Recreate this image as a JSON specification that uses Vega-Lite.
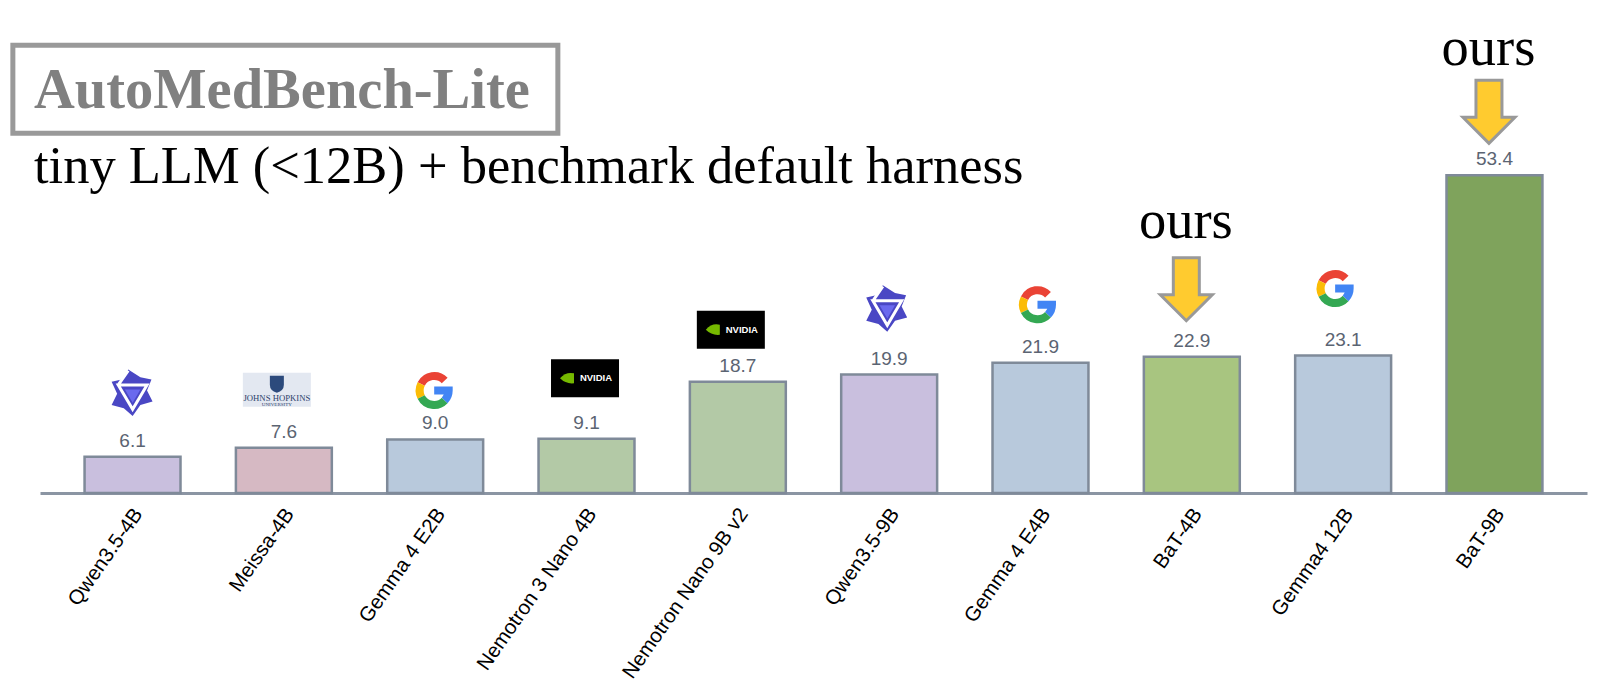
{
"$schema":"https://vega.github.io/schema/vega-lite/v6.json",
"width":1547,"height":493,
"autosize":{"type":"none"},
"padding":{"left":40,"top":0,"right":13,"bottom":197},
"background":"white",
"config":{"view":{"stroke":null}},
"title":{"text":"AutoMedBench-Lite","subtitle":"tiny LLM (<12B) + benchmark default harness","anchor":"start","frame":"group","orient":"top","dx":-6,"dy":193,"offset":0,
"font":"Liberation Serif","fontSize":56.5,"fontWeight":"bold","color":"#808080",
"subtitleFont":"Liberation Serif","subtitleFontSize":52.5,"subtitleColor":"#000000","subtitlePadding":22},
"params":[
{"name":"dxLogo","value":{"Qwen3.5-4B":-1,"Meissa-4B":-7,"Gemma 4 E2B":-1,"Nemotron 3 Nano 4B":-1.5,"Nemotron Nano 9B v2":-7,"Qwen3.5-9B":-3,"Gemma 4 E4B":-3,"Gemma4 12B":-8}},
{"name":"lift","value":{"Qwen3.5-4B":64,"Meissa-4B":58,"Gemma 4 E2B":49,"Nemotron 3 Nano 4B":60.5,"Nemotron Nano 9B v2":52,"Qwen3.5-9B":66,"Gemma 4 E4B":58,"Gemma4 12B":67}},
{"name":"arrowLift","value":{"BaT-4B":36,"BaT-9B":32}},
{"name":"oursLift","value":{"BaT-4B":119,"BaT-9B":110}}
],
"data":{"values":[
{"model":"Qwen3.5-4B","value":6.1,"group":"Qwen","logo":"qwen"},
{"model":"Meissa-4B","value":7.6,"group":"Meissa","logo":"jhu"},
{"model":"Gemma 4 E2B","value":9.0,"group":"Gemma","logo":"google"},
{"model":"Nemotron 3 Nano 4B","value":9.1,"group":"Nemotron","logo":"nvidia"},
{"model":"Nemotron Nano 9B v2","value":18.7,"group":"Nemotron","logo":"nvidia"},
{"model":"Qwen3.5-9B","value":19.9,"group":"Qwen","logo":"qwen"},
{"model":"Gemma 4 E4B","value":21.9,"group":"Gemma","logo":"google"},
{"model":"BaT-4B","value":22.9,"group":"BaT-4B","logo":"ours"},
{"model":"Gemma4 12B","value":23.1,"group":"Gemma","logo":"google"},
{"model":"BaT-9B","value":53.4,"group":"BaT-9B","logo":"ours"}
]},
"encoding":{
"x":{"field":"model","type":"nominal","sort":null,"title":null,
"scale":{"paddingInner":0.366,"paddingOuter":0.2945},
"axis":{"domainColor":"#8b95a3","domainWidth":3,"ticks":false,"labelAngle":-55,"labelAlign":"right","labelBaseline":"middle","labelFont":"Liberation Sans","labelFontSize":20.5,"labelColor":"#000000","labelPadding":17,"labelOffset":6,"labelOverlap":false,"labelLimit":400,"labelFlush":false}},
"y":{"field":"value","type":"quantitative","title":null,"axis":null,"scale":{"domain":[0,82.857],"nice":false,"zero":true}}
},
"layer":[
{"mark":{"type":"bar","stroke":"#7f8a99","strokeWidth":2.5},
 "encoding":{"color":{"field":"group","type":"nominal","legend":null,"scale":{"domain":["Qwen","Meissa","Gemma","Nemotron","BaT-4B","BaT-9B"],"range":["#c9bfde","#d6b9c3","#b8c9dc","#b3c9a6","#a8c580","#7fa35c"]}}}},
{"mark":{"type":"text","font":"Liberation Sans","fontSize":19,"color":"#5b6472","baseline":"alphabetic","dy":-10},
 "encoding":{"text":{"field":"value","type":"quantitative","format":".1f"}}},
{"transform":[{"filter":"datum.model==='Meissa-4B'"}],
 "mark":{"type":"point","shape":"M-271,-44 H274 V44 H-271 Z","size":4,"filled":false,"stroke":"#999999","strokeWidth":5,"opacity":1,"yOffset":-358.5}},
{"transform":[{"filter":"datum.logo==='ours'"}],
 "mark":{"type":"point","shape":"M-13,-63 H13 V-26 H26 L0,0 L-26,-26 H-13 Z","size":4,"filled":true,"fill":"#ffcb2f","stroke":"#999999","strokeWidth":3,"opacity":1,"xOffset":-5.5,"yOffset":{"expr":"-arrowLift[datum.model]"}}},
{"transform":[{"filter":"datum.logo==='ours'"}],
 "mark":{"type":"text","font":"Liberation Serif","fontSize":54.5,"color":"#000000","baseline":"alphabetic","text":"ours","xOffset":-6,"yOffset":{"expr":"-oursLift[datum.model]"}}},
{"transform":[{"filter":"datum.logo==='qwen'"}],
 "mark":{"type":"point","shape":"M-3,-21 L8,-14 L18,-12 L14,-2 L19,8 L8,11 L1,21 L-7,14 L-18,11 L-13,1 L-18,-10 L-9,-12 Z","size":4.9,"filled":true,"fill":"#4a47c4","opacity":1,"xOffset":{"expr":"dxLogo[datum.model]"},"yOffset":{"expr":"-lift[datum.model]"}}},
{"transform":[{"filter":"datum.logo==='qwen'"}],
 "mark":{"type":"point","shape":"M-12,-7 L-3,-20 M-12,-7 H14 L1,15 Z","size":4.9,"filled":false,"stroke":"#ffffff","strokeWidth":3,"opacity":1,"xOffset":{"expr":"dxLogo[datum.model]"},"yOffset":{"expr":"-lift[datum.model]"}}},
{"transform":[{"filter":"datum.logo==='qwen'"}],
 "mark":{"type":"point","shape":"M-6,-3 H8 L1,9 Z","size":4.9,"filled":true,"fill":"#6a69ee","opacity":1,"xOffset":{"expr":"dxLogo[datum.model]"},"yOffset":{"expr":"-lift[datum.model]"}}},
{"transform":[{"filter":"datum.logo==='jhu'"}],
 "mark":{"type":"point","shape":"M-34,-17 H34 V17 H-34 Z","size":4,"filled":true,"fill":"#e3e8f1","opacity":1,"xOffset":{"expr":"dxLogo[datum.model]"},"yOffset":{"expr":"-lift[datum.model]"}}},
{"transform":[{"filter":"datum.logo==='jhu'"}],
 "mark":{"type":"point","shape":"M-7,-14 H7 V-5 Q7,1 0,3 Q-7,1 -7,-5 Z","size":4,"filled":true,"fill":"#2c4a7c","opacity":1,"xOffset":{"expr":"dxLogo[datum.model]"},"yOffset":{"expr":"-lift[datum.model]"}}},
{"transform":[{"filter":"datum.logo==='jhu'"}],
 "mark":{"type":"text","font":"Liberation Serif","fontSize":8.7,"color":"#2c3f6b","text":"JOHNS HOPKINS","baseline":"middle","xOffset":{"expr":"dxLogo[datum.model]"},"yOffset":{"expr":"-lift[datum.model]+8"}}},
{"transform":[{"filter":"datum.logo==='jhu'"}],
 "mark":{"type":"text","font":"Liberation Serif","fontSize":5,"color":"#2c3f6b","text":"UNIVERSITY","baseline":"middle","xOffset":{"expr":"dxLogo[datum.model]"},"yOffset":{"expr":"-lift[datum.model]+14"}}},
{"transform":[{"filter":"datum.logo==='google'"}],
 "mark":{"type":"point","shape":"M10.5,-10 A14.5,14.5 0 0 0 -13,-6.5","size":4,"filled":false,"stroke":"#ea4335","strokeWidth":8,"opacity":1,"xOffset":{"expr":"dxLogo[datum.model]"},"yOffset":{"expr":"-lift[datum.model]"}}},
{"transform":[{"filter":"datum.logo==='google'"}],
 "mark":{"type":"point","shape":"M-13,-6.5 A14.5,14.5 0 0 0 -13,6.5","size":4,"filled":false,"stroke":"#fbbc05","strokeWidth":8,"opacity":1,"xOffset":{"expr":"dxLogo[datum.model]"},"yOffset":{"expr":"-lift[datum.model]"}}},
{"transform":[{"filter":"datum.logo==='google'"}],
 "mark":{"type":"point","shape":"M-13,6.5 A14.5,14.5 0 0 0 10.5,10","size":4,"filled":false,"stroke":"#34a853","strokeWidth":8,"opacity":1,"xOffset":{"expr":"dxLogo[datum.model]"},"yOffset":{"expr":"-lift[datum.model]"}}},
{"transform":[{"filter":"datum.logo==='google'"}],
 "mark":{"type":"point","shape":"M10.5,10 A14.5,14.5 0 0 0 14.5,0 L0,0","size":4,"filled":false,"stroke":"#4285f4","strokeWidth":8,"opacity":1,"xOffset":{"expr":"dxLogo[datum.model]"},"yOffset":{"expr":"-lift[datum.model]"}}},
{"transform":[{"filter":"datum.logo==='nvidia'"}],
 "mark":{"type":"point","shape":"M-34,-19 H34 V19 H-34 Z","size":4,"filled":true,"fill":"#000000","opacity":1,"xOffset":{"expr":"dxLogo[datum.model]"},"yOffset":{"expr":"-lift[datum.model]"}}},
{"transform":[{"filter":"datum.logo==='nvidia'"}],
 "mark":{"type":"point","shape":"M-25,0 Q-19,-7 -11,-5 V5 Q-19,6 -25,0 Z","size":4,"filled":true,"fill":"#76b900","opacity":1,"xOffset":{"expr":"dxLogo[datum.model]"},"yOffset":{"expr":"-lift[datum.model]"}}},
{"transform":[{"filter":"datum.logo==='nvidia'"}],
 "mark":{"type":"text","font":"Liberation Sans","fontWeight":"bold","fontSize":9.5,"color":"#ffffff","text":"NVIDIA","baseline":"middle","xOffset":{"expr":"dxLogo[datum.model]+11"},"yOffset":{"expr":"-lift[datum.model]"}}}
]
}
